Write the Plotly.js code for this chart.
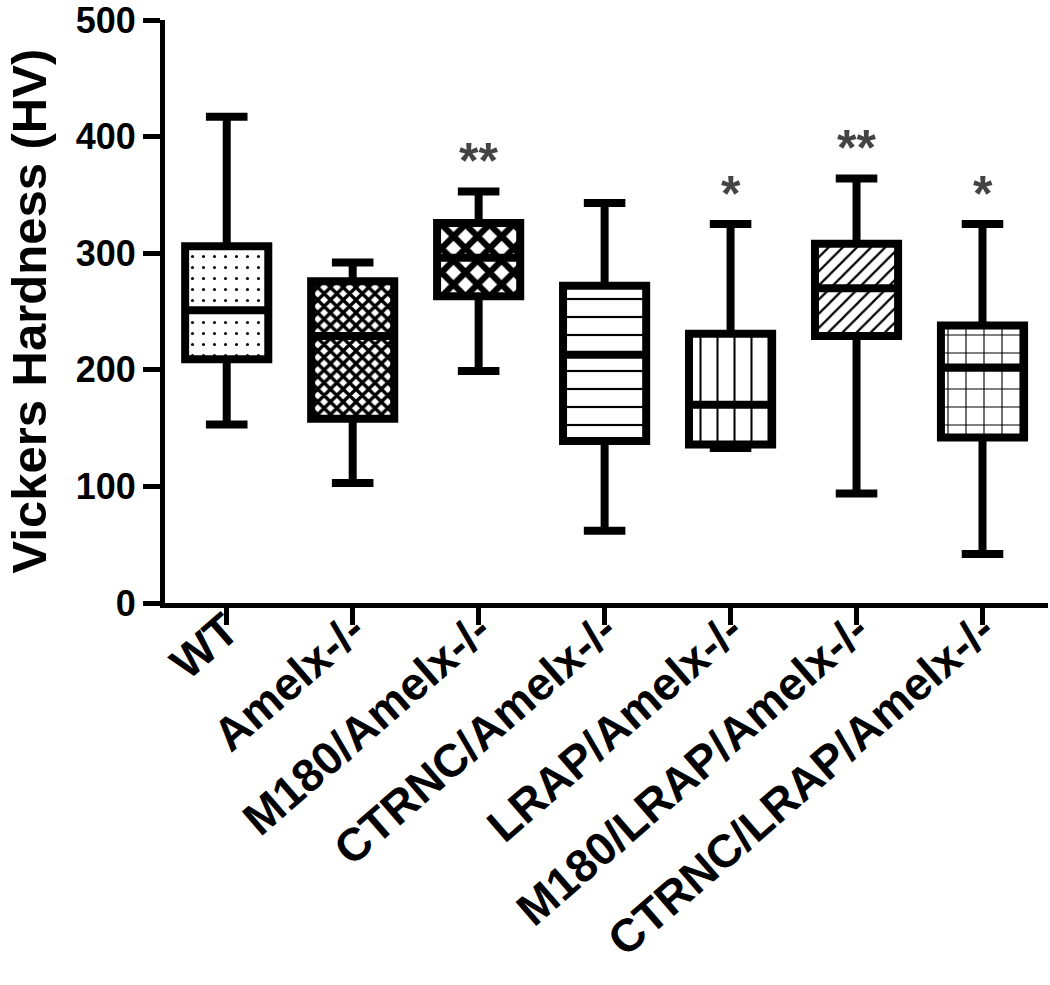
<!DOCTYPE html>
<html>
<head>
<meta charset="utf-8">
<script src="https://cdn.plot.ly/plotly-3.0.1.min.js"></script>
<style>html,body{margin:0;padding:0;background:#fff;}#chart{width:1050px;height:985px;}</style>
</head>
<body>
<div id="chart"></div>
<script>
const categories = ['WT', 'Amelx-/-', 'M180/Amelx-/-', 'CTRNC/Amelx-/-', 'LRAP/Amelx-/-', 'M180/LRAP/Amelx-/-', 'CTRNC/LRAP/Amelx-/-'];
const upperWhisker = [417, 292, 353, 343, 325, 364, 325];
const q3 = [306, 276, 326, 272, 231, 308, 238];
const median = [251, 229, 296, 213, 170, 270, 202];
const q1 = [209, 158, 263, 139, 136, 229, 142];
const lowerWhisker = [153, 103, 199, 62, 133, 94, 42];
const significance = ['', '', '**', '', '*', '**', '*'];
const fillPatterns = ['.', 'x', 'x', '-', '|', '/', '+'];
const yTickValues = [0, 100, 200, 300, 400, 500];
const yTitle = 'Vickers Hardness (HV)';

const FONT = '"Liberation Sans", Arial, sans-serif';
const boxWidth = 0.66;

const patternSize = [11, 9, 17, 18, 17, 10, 18];
const patternSolidity = [0.06, 0.6, 0.6, 0.12, 0.12, 0.22, 0.12];

const fillTrace = {
  type: 'bar',
  x: categories,
  base: q1,
  y: q3.map((v, i) => v - q1[i]),
  width: boxWidth,
  marker: {
    color: '#ffffff',
    line: {width: 0},
    pattern: {
      shape: fillPatterns,
      size: patternSize,
      solidity: patternSolidity,
      fgcolor: '#000000',
      bgcolor: '#ffffff',
      fillmode: 'replace'
    }
  },
  hoverinfo: 'skip',
  showlegend: false
};

const boxTrace = {
  type: 'box',
  x: categories,
  q1: q1,
  median: median,
  q3: q3,
  lowerfence: lowerWhisker,
  upperfence: upperWhisker,
  width: boxWidth,
  whiskerwidth: 0.5,
  boxpoints: false,
  fillcolor: 'rgba(0,0,0,0)',
  line: {color: '#000000', width: 8},
  hoverinfo: 'skip',
  showlegend: false
};

const annotations = categories.map((c, i) => ({
  x: c,
  y: upperWhisker[i] + 26,
  xref: 'x',
  yref: 'y',
  text: significance[i],
  showarrow: false,
  yanchor: 'middle',
  font: {family: FONT, size: 50, color: '#444444', weight: 700}
})).filter(a => a.text !== '');

annotations.push({
  text: yTitle,
  xref: 'paper',
  yref: 'paper',
  x: 0,
  y: 0.5,
  xshift: -137,
  xanchor: 'center',
  yanchor: 'middle',
  textangle: -90,
  showarrow: false,
  font: {family: FONT, size: 49, color: '#000000', weight: 700}
});

const layout = {
  width: 1050,
  height: 985,
  margin: {l: 165, r: 2, t: 20, b: 382},
  paper_bgcolor: '#ffffff',
  plot_bgcolor: '#ffffff',
  showlegend: false,
  bargap: 0,
  xaxis: {
    type: 'category',
    range: [-0.49, 6.52],
    showline: true,
    linewidth: 5,
    linecolor: '#000000',
    ticks: 'outside',
    ticklen: 17,
    tickwidth: 5,
    tickcolor: '#000000',
    tickangle: -41,
    ticklabelstandoff: -40,
    ticklabeloverflow: 'allow',
    showgrid: false,
    zeroline: false,
    tickfont: {family: FONT, size: 46, color: '#000000', weight: 700}
  },
  yaxis: {
    range: [0, 500],
    tickvals: yTickValues,
    ticktext: yTickValues.map(String),
    ticklabeloverflow: 'allow',
    showline: true,
    linewidth: 5,
    linecolor: '#000000',
    ticks: 'outside',
    ticklen: 17,
    tickwidth: 5,
    tickcolor: '#000000',
    showgrid: false,
    zeroline: false,
    tickfont: {family: FONT, size: 36, color: '#000000', weight: 700}
  },
  annotations: annotations
};

Plotly.newPlot('chart', [fillTrace, boxTrace], layout, {displayModeBar: false, staticPlot: true});
</script>
</body>
</html>
